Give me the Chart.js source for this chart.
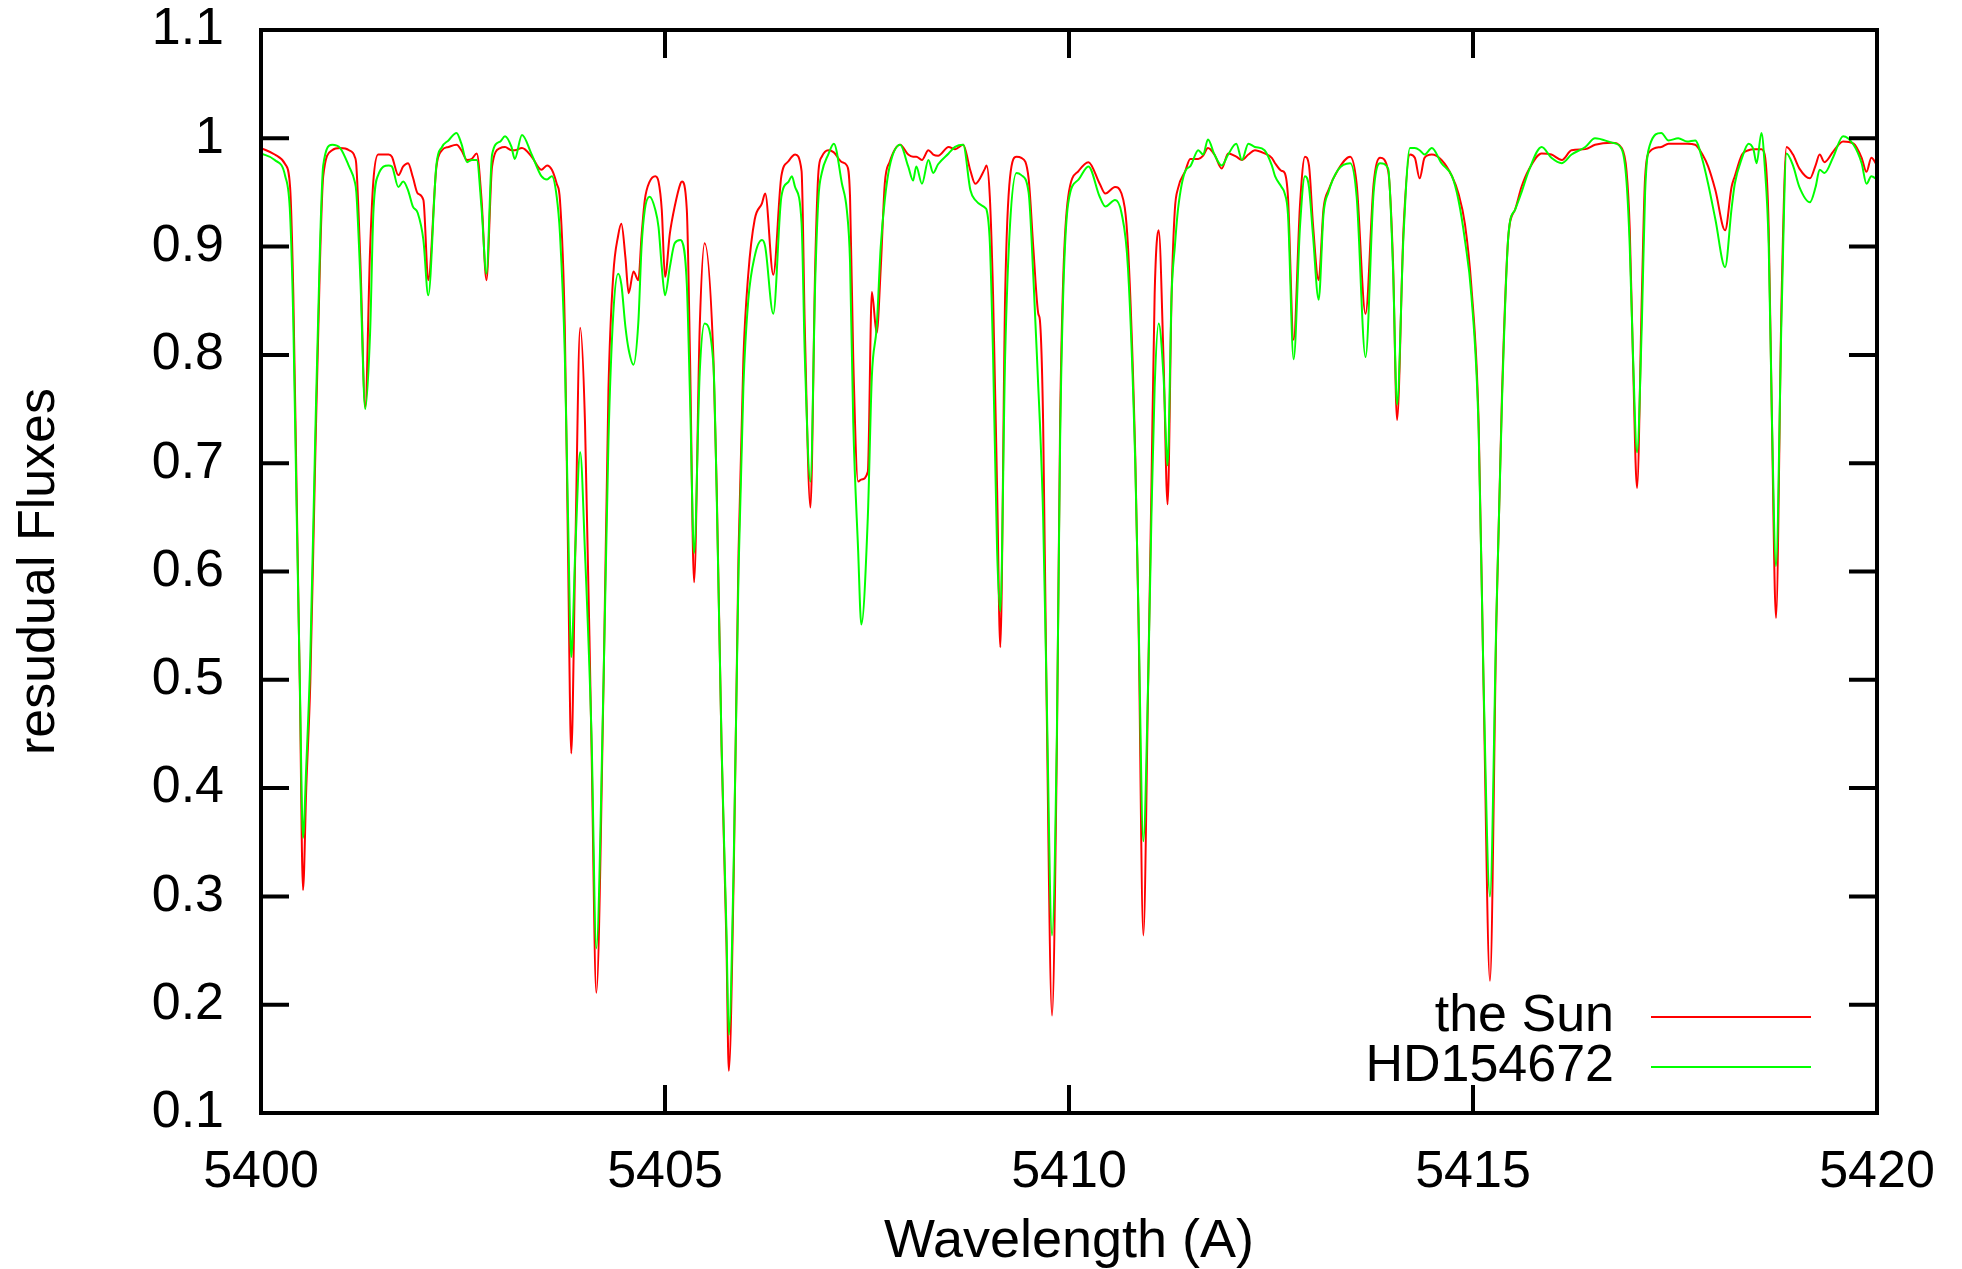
<!DOCTYPE html>
<html>
<head>
<meta charset="utf-8">
<script src="https://cdn.jsdelivr.net/npm/chart.js@4.4.1/dist/chart.umd.min.js"></script>
<style>
  html, body { margin: 0; padding: 0; background: #fff; }
  canvas { display: block; }
</style>
</head>
<body>
<canvas id="spectrum" width="1962" height="1269"></canvas>
<script>
// wavelength grid (A)
const wavelength = [
  5400.00, 5400.17, 5400.30, 5400.36, 5400.40, 5400.44, 5400.48, 5400.52, 5400.56, 5400.61,
  5400.67, 5400.73, 5400.77, 5400.88, 5400.98, 5401.09, 5401.16, 5401.18, 5401.23, 5401.29,
  5401.35, 5401.39, 5401.45, 5401.58, 5401.62, 5401.70, 5401.76, 5401.82, 5401.88, 5401.94,
  5402.01, 5402.07, 5402.17, 5402.24, 5402.32, 5402.42, 5402.48, 5402.55, 5402.61, 5402.67,
  5402.73, 5402.79, 5402.86, 5402.96, 5403.02, 5403.10, 5403.14, 5403.23, 5403.35, 5403.47,
  5403.54, 5403.60, 5403.66, 5403.70, 5403.76, 5403.80, 5403.84, 5403.89, 5403.95, 5404.01,
  5404.09, 5404.15, 5404.24, 5404.30, 5404.36, 5404.42, 5404.46, 5404.51, 5404.55, 5404.61,
  5404.67, 5404.71, 5404.75, 5404.81, 5404.88, 5404.92, 5404.96, 5405.00, 5405.06, 5405.12,
  5405.19, 5405.21, 5405.27, 5405.31, 5405.36, 5405.43, 5405.49, 5405.60, 5405.64, 5405.70,
  5405.76, 5405.79, 5405.85, 5405.91, 5405.97, 5406.03, 5406.11, 5406.20, 5406.24, 5406.34,
  5406.44, 5406.53, 5406.57, 5406.61, 5406.69, 5406.73, 5406.80, 5406.86, 5406.90, 5406.94,
  5407.02, 5407.09, 5407.19, 5407.25, 5407.29, 5407.33, 5407.39, 5407.43, 5407.51, 5407.56,
  5407.62, 5407.67, 5407.72, 5407.78, 5407.91, 5408.01, 5408.07, 5408.11, 5408.18, 5408.26,
  5408.32, 5408.38, 5408.51, 5408.59, 5408.69, 5408.78, 5408.84, 5408.96, 5408.98, 5409.02,
  5409.06, 5409.11, 5409.15, 5409.21, 5409.27, 5409.35, 5409.41, 5409.50, 5409.56, 5409.62,
  5409.64, 5409.68, 5409.72, 5409.79, 5409.85, 5409.89, 5409.93, 5409.99, 5410.12, 5410.24,
  5410.38, 5410.45, 5410.57, 5410.65, 5410.73, 5410.82, 5410.86, 5410.92, 5410.98, 5411.02,
  5411.06, 5411.11, 5411.17, 5411.22, 5411.27, 5411.31, 5411.35, 5411.44, 5411.50, 5411.60,
  5411.66, 5411.72, 5411.80, 5411.89, 5411.97, 5412.07, 5412.14, 5412.22, 5412.30, 5412.42,
  5412.51, 5412.55, 5412.63, 5412.67, 5412.71, 5412.78, 5412.86, 5412.92, 5412.97, 5413.02,
  5413.09, 5413.15, 5413.21, 5413.33, 5413.48, 5413.56, 5413.67, 5413.77, 5413.85, 5413.95,
  5414.01, 5414.06, 5414.14, 5414.22, 5414.28, 5414.34, 5414.40, 5414.49, 5414.61, 5414.74,
  5414.82, 5414.90, 5414.98, 5415.07, 5415.13, 5415.21, 5415.29, 5415.36, 5415.44, 5415.52,
  5415.60, 5415.69, 5415.85, 5415.97, 5416.10, 5416.22, 5416.39, 5416.51, 5416.72, 5416.84,
  5416.90, 5416.94, 5416.98, 5417.03, 5417.09, 5417.13, 5417.19, 5417.33, 5417.42, 5417.54,
  5417.65, 5417.75, 5417.84, 5417.91, 5418.00, 5418.12, 5418.20, 5418.24, 5418.33, 5418.41,
  5418.47, 5418.51, 5418.57, 5418.61, 5418.66, 5418.70, 5418.75, 5418.82, 5418.88, 5418.96,
  5419.04, 5419.17, 5419.24, 5419.29, 5419.35, 5419.46, 5419.58, 5419.71, 5419.81, 5419.87,
  5419.93, 5420.00
];

// the Sun (red)
const sunFlux = [
  0.991, 0.985, 0.976, 0.955, 0.856, 0.677, 0.497, 0.306, 0.400, 0.497,
  0.700, 0.886, 0.965, 0.989, 0.991, 0.989, 0.983, 0.975, 0.886, 0.752,
  0.897, 0.960, 0.985, 0.985, 0.983, 0.966, 0.974, 0.977, 0.964, 0.949,
  0.943, 0.869, 0.973, 0.989, 0.992, 0.994, 0.989, 0.980, 0.981, 0.986,
  0.943, 0.869, 0.974, 0.991, 0.992, 0.989, 0.989, 0.991, 0.983, 0.971,
  0.975, 0.971, 0.958, 0.943, 0.826, 0.617, 0.432, 0.620, 0.825, 0.737,
  0.440, 0.211, 0.498, 0.767, 0.874, 0.910, 0.921, 0.890, 0.857, 0.877,
  0.869, 0.910, 0.943, 0.960, 0.965, 0.960, 0.934, 0.872, 0.912, 0.937,
  0.958, 0.960, 0.934, 0.796, 0.590, 0.826, 0.903, 0.796, 0.677, 0.438,
  0.258, 0.139, 0.318, 0.617, 0.796, 0.874, 0.925, 0.940, 0.949, 0.874,
  0.965, 0.979, 0.983, 0.985, 0.970, 0.826, 0.659, 0.886, 0.970, 0.983,
  0.989, 0.987, 0.978, 0.975, 0.946, 0.796, 0.683, 0.685, 0.692, 0.858,
  0.820, 0.880, 0.958, 0.978, 0.994, 0.985, 0.983, 0.983, 0.980, 0.989,
  0.985, 0.984, 0.992, 0.990, 0.994, 0.970, 0.958, 0.972, 0.975, 0.946,
  0.856, 0.677, 0.530, 0.856, 0.964, 0.983, 0.982, 0.963, 0.897, 0.838,
  0.832, 0.737, 0.497, 0.190, 0.438, 0.737, 0.874, 0.946, 0.970, 0.978,
  0.958, 0.949, 0.955, 0.949, 0.900, 0.707, 0.557, 0.264, 0.498, 0.677,
  0.856, 0.915, 0.796, 0.662, 0.856, 0.934, 0.954, 0.970, 0.981, 0.981,
  0.984, 0.991, 0.985, 0.972, 0.986, 0.983, 0.980, 0.985, 0.989, 0.986,
  0.982, 0.977, 0.970, 0.968, 0.946, 0.814, 0.940, 0.983, 0.975, 0.920,
  0.869, 0.935, 0.952, 0.971, 0.983, 0.958, 0.838, 0.958, 0.982, 0.970,
  0.886, 0.740, 0.916, 0.985, 0.982, 0.963, 0.982, 0.985, 0.980, 0.965,
  0.949, 0.921, 0.863, 0.737, 0.497, 0.222, 0.557, 0.767, 0.912, 0.934,
  0.955, 0.971, 0.986, 0.985, 0.980, 0.989, 0.990, 0.994, 0.996, 0.991,
  0.970, 0.916, 0.796, 0.677, 0.856, 0.964, 0.988, 0.992, 0.995, 0.995,
  0.995, 0.994, 0.985, 0.974, 0.952, 0.915, 0.955, 0.965, 0.985, 0.989,
  0.990, 0.990, 0.990, 0.985, 0.916, 0.737, 0.557, 0.856, 0.992, 0.985,
  0.972, 0.963, 0.975, 0.985, 0.978, 0.988, 0.997, 0.995, 0.982, 0.969,
  0.982, 0.975
];

// HD154672 (green)
const hdFlux = [
  0.986, 0.980, 0.965, 0.930, 0.830, 0.660, 0.500, 0.354, 0.420, 0.520,
  0.720, 0.900, 0.975, 0.994, 0.991, 0.974, 0.960, 0.950, 0.870, 0.750,
  0.820, 0.930, 0.966, 0.975, 0.974, 0.955, 0.960, 0.952, 0.937, 0.931,
  0.906, 0.855, 0.975, 0.992, 0.998, 1.005, 0.995, 0.978, 0.980, 0.980,
  0.935, 0.875, 0.985, 0.997, 1.002, 0.992, 0.981, 1.003, 0.985, 0.965,
  0.962, 0.965, 0.946, 0.912, 0.800, 0.650, 0.521, 0.620, 0.710, 0.617,
  0.450, 0.252, 0.500, 0.720, 0.838, 0.875, 0.865, 0.826, 0.805, 0.791,
  0.830, 0.900, 0.934, 0.946, 0.934, 0.918, 0.881, 0.855, 0.881, 0.903,
  0.906, 0.905, 0.865, 0.760, 0.617, 0.784, 0.829, 0.790, 0.670, 0.440,
  0.270, 0.172, 0.330, 0.600, 0.770, 0.850, 0.891, 0.906, 0.900, 0.838,
  0.946, 0.960, 0.965, 0.955, 0.922, 0.800, 0.683, 0.870, 0.946, 0.968,
  0.985, 0.995, 0.958, 0.934, 0.886, 0.737, 0.620, 0.551, 0.650, 0.780,
  0.826, 0.900, 0.943, 0.974, 0.994, 0.974, 0.961, 0.974, 0.958, 0.980,
  0.968, 0.976, 0.986, 0.992, 0.994, 0.952, 0.943, 0.936, 0.934, 0.904,
  0.800, 0.620, 0.563, 0.800, 0.920, 0.968, 0.966, 0.950, 0.870, 0.770,
  0.737, 0.650, 0.500, 0.264, 0.450, 0.720, 0.860, 0.940, 0.962, 0.974,
  0.946, 0.937, 0.943, 0.931, 0.880, 0.700, 0.560, 0.351, 0.500, 0.650,
  0.770, 0.829, 0.780, 0.698, 0.856, 0.900, 0.935, 0.970, 0.974, 0.989,
  0.985, 0.999, 0.985, 0.975, 0.985, 0.995, 0.980, 0.995, 0.992, 0.989,
  0.975, 0.965, 0.955, 0.949, 0.930, 0.796, 0.920, 0.965, 0.955, 0.910,
  0.851, 0.930, 0.950, 0.971, 0.977, 0.946, 0.798, 0.950, 0.977, 0.972,
  0.880, 0.754, 0.910, 0.991, 0.991, 0.989, 0.985, 0.991, 0.977, 0.965,
  0.943, 0.906, 0.855, 0.730, 0.500, 0.300, 0.560, 0.760, 0.912, 0.934,
  0.950, 0.970, 0.992, 0.982, 0.977, 0.985, 0.992, 1.000, 0.996, 0.990,
  0.960, 0.900, 0.800, 0.710, 0.830, 0.950, 0.994, 1.005, 0.998, 1.000,
  0.997, 0.998, 0.980, 0.958, 0.925, 0.881, 0.935, 0.958, 0.982, 0.995,
  0.990, 0.977, 1.005, 0.975, 0.900, 0.740, 0.605, 0.840, 0.986, 0.975,
  0.955, 0.941, 0.955, 0.971, 0.968, 0.983, 1.002, 0.994, 0.977, 0.958,
  0.965, 0.962
];

const seriesNames = ['the Sun', 'HD154672'];
const seriesColors = ['#ff0000', '#00ff00'];
const xTickValues = [5400, 5405, 5410, 5415, 5420];
const yTickValues = [0.1, 0.2, 0.3, 0.4, 0.5, 0.6, 0.7, 0.8, 0.9, 1.0, 1.1];

const fontFamily = '"Liberation Sans", Arial, sans-serif';
Chart.defaults.font.family = fontFamily;
Chart.defaults.color = '#000';

// gnuplot style box with inward ticks on all four sides
const framePlugin = {
    id: 'gnuFrame',
    afterDraw(chart) {
        const {ctx, chartArea: a, scales} = chart;
        const tick = 28;
        ctx.save();
        ctx.strokeStyle = '#000';
        ctx.lineWidth = 4;
        ctx.beginPath();
        scales.x.ticks.forEach(t => {
            const px = scales.x.getPixelForValue(t.value);
            ctx.moveTo(px, a.bottom);
            ctx.lineTo(px, a.bottom - tick);
            ctx.moveTo(px, a.top);
            ctx.lineTo(px, a.top + tick);
        });
        scales.y.ticks.forEach(t => {
            const py = scales.y.getPixelForValue(t.value);
            ctx.moveTo(a.left, py);
            ctx.lineTo(a.left + tick, py);
            ctx.moveTo(a.right, py);
            ctx.lineTo(a.right - tick, py);
        });
        ctx.stroke();
        ctx.strokeRect(a.left, a.top, a.right - a.left, a.bottom - a.top);
        ctx.restore();
    }
};

// key in the lower right corner: label first, then the line sample
const keyPlugin = {
    id: 'gnuKey',
    afterDraw(chart) {
        const {ctx, chartArea: a} = chart;
        ctx.save();
        ctx.font = '52px ' + fontFamily;
        ctx.textAlign = 'right';
        ctx.textBaseline = 'middle';
        chart.data.datasets.forEach((ds, i) => {
            const yy = a.bottom - 96 + i * 50;
            ctx.fillStyle = '#000';
            ctx.fillText(ds.label, a.right - 263, yy);
            ctx.strokeStyle = ds.borderColor;
            ctx.lineWidth = 2;
            ctx.beginPath();
            ctx.moveTo(a.right - 226, yy);
            ctx.lineTo(a.right - 66, yy);
            ctx.stroke();
        });
        ctx.restore();
    }
};

const ctx = document.getElementById('spectrum').getContext('2d');

new Chart(ctx, {
    type: 'line',
    data: {
        datasets: [{
            label: seriesNames[0],
            data: wavelength.map((w, i) => ({x: w, y: sunFlux[i]})),
            borderColor: seriesColors[0],
            borderWidth: 2,
            pointRadius: 0,
            cubicInterpolationMode: 'monotone',
            order: 1
        }, {
            label: seriesNames[1],
            data: wavelength.map((w, i) => ({x: w, y: hdFlux[i]})),
            borderColor: seriesColors[1],
            borderWidth: 2,
            pointRadius: 0,
            cubicInterpolationMode: 'monotone',
            order: 0
        }]
    },
    options: {
        responsive: false,
        animation: false,
        events: [],
        layout: {
            padding: {left: 0, top: 30, right: 85, bottom: 0}
        },
        plugins: {
            legend: {display: false},
            tooltip: {enabled: false}
        },
        scales: {
            x: {
                type: 'linear',
                min: 5400,
                max: 5420,
                afterBuildTicks: scale => {
                    scale.ticks = xTickValues.map(v => ({value: v}));
                },
                afterFit: scale => {
                    scale.height = 156;
                    scale.paddingLeft = 0;
                    scale.paddingRight = 0;
                },
                grid: {display: false},
                border: {display: false},
                ticks: {
                    font: {size: 52},
                    padding: 20,
                    maxRotation: 0,
                    autoSkip: false,
                    callback: v => String(v)
                },
                title: {
                    display: true,
                    text: 'Wavelength (A)',
                    font: {size: 54, lineHeight: 1},
                    padding: {top: 1, bottom: 0}
                }
            },
            y: {
                type: 'linear',
                min: 0.1,
                max: 1.1,
                afterBuildTicks: scale => {
                    scale.ticks = yTickValues.map(v => ({value: v}));
                },
                afterFit: scale => {
                    scale.width = 261;
                    scale.paddingTop = 0;
                    scale.paddingBottom = 0;
                },
                grid: {display: false},
                border: {display: false},
                ticks: {
                    font: {size: 52},
                    padding: 29,
                    autoSkip: false,
                    callback: v => String(Math.round(v * 10) / 10)
                },
                title: {
                    display: true,
                    text: 'resudual Fluxes',
                    font: {size: 52, lineHeight: 1},
                    padding: {top: 14, bottom: 0}
                }
            }
        }
    },
    plugins: [framePlugin, keyPlugin]
});
</script>
</body>
</html>
